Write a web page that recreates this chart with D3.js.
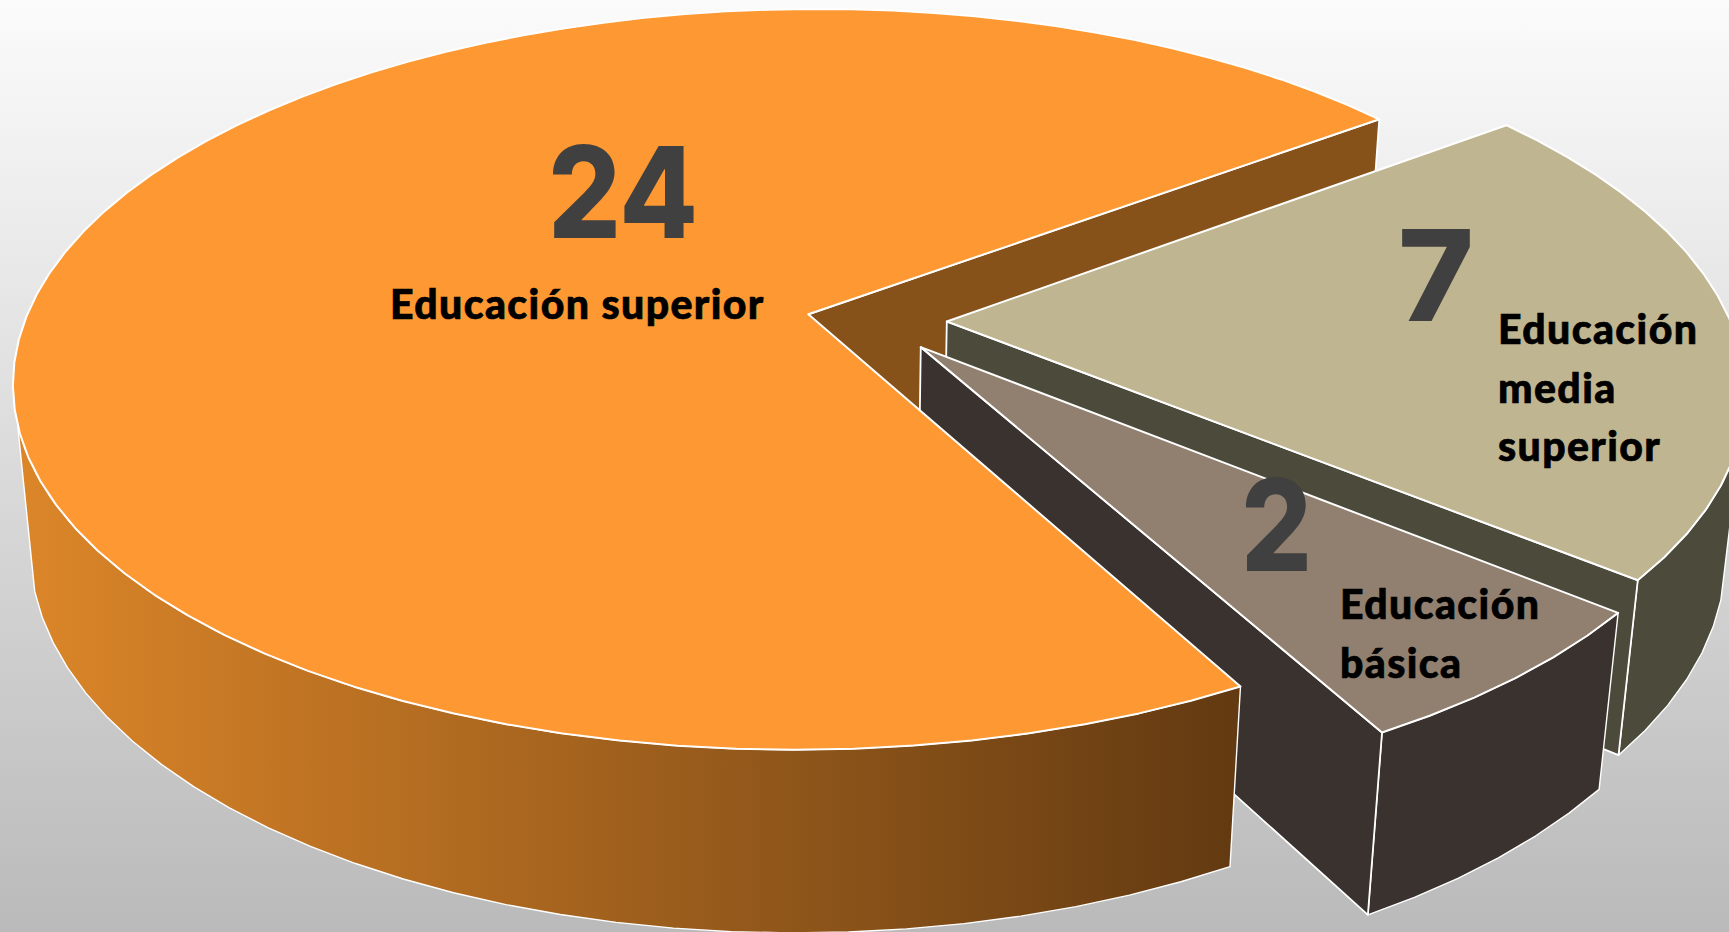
<!DOCTYPE html>
<html>
<head>
<meta charset="utf-8">
<script src="https://cdn.jsdelivr.net/npm/d3@7"></script>
<style>
    html, body { margin: 0; padding: 0; overflow: hidden; background: #fff; }
    svg { display: block; }
</style>
</head>
<body>
<div class="pieChart"></div>
<script>
const categories = ['Educación media superior', 'Educación básica', 'Educación superior']
const values = [7, 2, 24]
const topColors = ['#bfb591', '#918070', '#fd9832']
const wallColors = ['#4c4a3a', '#3a322e', '#87521a']

function renderPieChart() {
    const width = 1729
    const height = 932
    const rad = d => d * Math.PI / 180

    // perspective of the tilted disc, fitted on the reference
    const cam = {x: 808.3, y: 314.3, a: 781, b: 359, depth: 164, k: 0.1756, m: 0.021, shear: 11}
    const project = (u, v, z) => {
        const w = 1 - cam.k * v + cam.m * z
        return [cam.x + (cam.a * u - cam.shear * v) / w, cam.y + (cam.b * v + cam.depth * z) / w]
    }

    const explode = [[0.177, 0.02], [0.143, 0.09], [0, 0]]
    const line = d3.line()

    const slices = d3.pie()
        .sort(null)
        .startAngle(rad(53.1))
        .endAngle(rad(53.1 + 360))(values)
        .map((d, i) => ({
            from: d.startAngle - Math.PI / 2,
            to: d.endAngle - Math.PI / 2,
            off: explode[i],
            top: topColors[i],
            wall: wallColors[i]
        }))

    const rim = (s, a, z) => project(s.off[0] + Math.cos(a), s.off[1] + Math.sin(a), z)
    const apex = (s, z) => project(s.off[0], s.off[1], z)
    const arcAngles = (a0, a1) => {
        const n = Math.max(1, Math.round(Math.abs(a1 - a0) / rad(3.6)))
        return d3.range(n + 1).map(i => a0 + (a1 - a0) * i / n)
    }

    const svg = d3.select('.pieChart').append('svg')
        .attr('viewBox', `0 0 ${width} ${height}`)
        .attr('width', width)
        .attr('height', height)

    const defs = svg.append('defs')
    const bg = defs.append('linearGradient')
        .attr('id', 'bg')
        .attr('x1', 0).attr('y1', 0).attr('x2', 0).attr('y2', 1)
    bg.append('stop').attr('offset', 0).attr('stop-color', '#fbfbfb')
    bg.append('stop').attr('offset', 1).attr('stop-color', '#bababa')

    const bigWall = defs.append('linearGradient')
        .attr('id', 'bigWall')
        .attr('gradientUnits', 'userSpaceOnUse')
        .attr('x1', 17).attr('y1', 0).attr('x2', 1232).attr('y2', 0)
    bigWall.append('stop').attr('offset', 0).attr('stop-color', '#dc8629')
    bigWall.append('stop').attr('offset', 1).attr('stop-color', '#633a11')

    svg.append('rect')
        .attr('width', width)
        .attr('height', height)
        .attr('fill', 'url(#bg)')

    const poly = (pts, fill, sw) => svg.append('path')
        .attr('d', line(pts) + 'Z')
        .attr('fill', fill)
        .attr('stroke', '#fff')
        .attr('stroke-width', sw)
        .attr('stroke-linejoin', 'round')

    const innerWall = (s, a) => poly([apex(s, 0), rim(s, a, 0), rim(s, a, 1), apex(s, 1)], s.wall, 1.8)
    const outerWall = (s, a0, a1, fill) => {
        const angles = arcAngles(a0, a1)
        const pts = angles.map(a => rim(s, a, 0)).concat(angles.slice().reverse().map(a => rim(s, a, 1)))
        poly(pts, fill, 1.4)
    }
    const topFace = s => poly([apex(s, 0)].concat(arcAngles(s.from, s.to).map(a => rim(s, a, 0))), s.top, 2)

    const [media, basica, superior] = slices

    // back wall of the big slice goes first, the two pulled out slices sit on it
    innerWall(superior, superior.to)

    outerWall(media, rad(17), media.to, media.wall)
    innerWall(media, media.to)
    topFace(media)

    outerWall(basica, basica.from, basica.to, basica.wall)
    innerWall(basica, basica.to)
    topFace(basica)

    outerWall(superior, superior.from, rad(163), 'url(#bigWall)')
    topFace(superior)

    ///////////////////////////////////////////////////////////////////////////
    const numberLabels = [
        {text: values[2], x: 548, y: 238, len: 150},
        {text: values[0], x: 1398, y: 321, len: 76},
        {text: values[1], x: 1241, y: 571, len: 71}
    ]
    const nameLabels = [
        {lines: ['Educación', 'media', 'superior'], x: 1498, y: 344},
        {lines: ['Educación', 'básica'], x: 1340, y: 619},
        {lines: ['Educación superior'], x: 390, y: 319}
    ]

    svg.selectAll('.number')
        .data(numberLabels)
        .enter()
        .append('text')
        .attr('class', 'number')
        .attr('x', d => d.x)
        .attr('y', d => d.y)
        .attr('textLength', d => d.len)
        .attr('lengthAdjust', 'spacingAndGlyphs')
        .style('font', '800 127px Inter, sans-serif')
        .style('fill', '#404040')
        .text(d => d.text)

    nameLabels.forEach(d => {
        svg.append('text')
            .attr('class', 'name')
            .style('font', '900 41px Lato, sans-serif')
            .style('letter-spacing', '1.4px')
            .style('fill', '#000')
            .style('stroke', '#000')
            .style('stroke-width', '0.7px')
            .selectAll('tspan')
            .data(d.lines)
            .enter()
            .append('tspan')
            .attr('x', d.x)
            .attr('y', (t, i) => d.y + i * 58.5)
            .text(t => t)
    })
}

renderPieChart()
</script>
</body>
</html>
